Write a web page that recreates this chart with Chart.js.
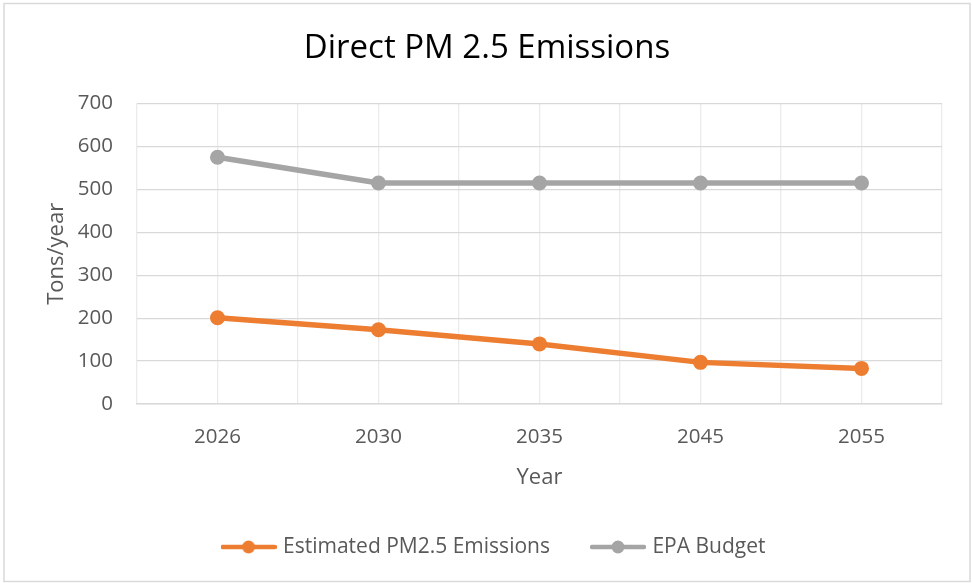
<!DOCTYPE html>
<html>
<head>
<meta charset="utf-8">
<script src="https://cdn.jsdelivr.net/npm/chart.js@4/dist/chart.umd.min.js"></script>
<style>
  html, body { margin: 0; padding: 0; background: #fff; }
  #wrap { width: 972px; height: 583px; }
</style>
</head>
<body>
<div id="wrap"><canvas id="c" width="972" height="583"></canvas></div>
<script>
const chartTitle = 'Direct PM 2.5 Emissions';
const years = ['2026', '2030', '2035', '2045', '2055'];
const estimatedEmissions = [201, 173, 140, 97, 83];
const epaBudget = [575, 515, 515, 515, 515];
const seriesNames = ['Estimated PM2.5 Emissions', 'EPA Budget'];
const yAxisTitle = 'Tons/year';
const xAxisTitle = 'Year';
const yMin = 0, yMax = 700, yStep = 100;

const ORANGE = '#ED7D31';
const GRAY = '#A5A5A5';
const TEXT = '#595959';
const FONT = '"Open Sans", "DejaVu Sans", sans-serif';

function legendIcon(color) {
  const c = document.createElement('canvas');
  c.width = 56; c.height = 16;
  const g = c.getContext('2d');
  g.strokeStyle = color; g.lineWidth = 4.5; g.lineCap = 'round';
  g.beginPath(); g.moveTo(2, 8); g.lineTo(54, 8); g.stroke();
  g.fillStyle = color;
  g.beginPath(); g.arc(28, 8, 6.5, 0, Math.PI * 2); g.fill();
  return c;
}

const frame = {
  id: 'frame',
  beforeDraw(chart) {
    const ctx = chart.ctx;
    ctx.save();
    ctx.fillStyle = '#fff';
    ctx.fillRect(0, 0, chart.width, chart.height);
    ctx.strokeStyle = '#d9d9d9';
    ctx.lineWidth = 1.5;
    ctx.strokeRect(4, 3.5, 966, 578);
    ctx.restore();
  },
  afterLayout(chart) {
    if (chart.legend) { chart.legend.left += 24; chart.legend.right += 24; }
    if (chart.titleBlock) { chart.titleBlock.left += 16; chart.titleBlock.right += 16; }
  }
};

function draw() {
  new Chart(document.getElementById('c'), {
    type: 'line',
    data: {
      labels: years,
      datasets: [
        {
          label: seriesNames[0], data: estimatedEmissions,
          borderColor: ORANGE, backgroundColor: ORANGE,
          borderWidth: 5.5, pointRadius: 7.5, pointHoverRadius: 7.5,
          pointBackgroundColor: ORANGE, pointBorderWidth: 0, tension: 0
        },
        {
          label: seriesNames[1], data: epaBudget,
          borderColor: GRAY, backgroundColor: GRAY,
          borderWidth: 5.5, pointRadius: 7.5, pointHoverRadius: 7.5,
          pointBackgroundColor: GRAY, pointBorderWidth: 0, tension: 0
        }
      ]
    },
    options: {
      responsive: false,
      animation: false,
      devicePixelRatio: 1,
      layout: { padding: { left: 0, right: 30, top: 0, bottom: 15.5 } },
      plugins: {
        tooltip: { enabled: false },
        title: {
          display: true, text: chartTitle, color: '#000',
          font: { family: FONT, size: 33, weight: 'normal' },
          padding: { top: 29, bottom: 35 }
        },
        legend: {
          display: true, position: 'bottom',
          labels: {
            color: TEXT, font: { family: FONT, size: 21 },
            usePointStyle: true, pointStyleWidth: 48, padding: 44,
            generateLabels(chart) {
              const items = Chart.defaults.plugins.legend.labels.generateLabels(chart);
              items.forEach((it, i) => { it.pointStyle = legendIcon(i === 0 ? ORANGE : GRAY); });
              return items;
            }
          }
        }
      },
      scales: {
        x: {
          type: 'category', offset: true, position: 'bottom',
          grid: { display: true, offset: false, color: '#ebebeb', lineWidth: 1.3, drawTicks: false },
          border: { display: true, color: '#d9d9d9', width: 1.5 },
          ticks: { color: TEXT, font: { family: FONT, size: 20.5 }, padding: 21, maxRotation: 0 },
          title: { display: true, text: xAxisTitle, color: TEXT, font: { family: FONT, size: 22 }, padding: { top: 12, bottom: 2 } },
          afterFit(s) { s.height = 88.5; }
        },
        x2: {
          type: 'category', offset: true, position: 'bottom',
          grid: { display: true, offset: true, color: '#ebebeb', lineWidth: 1.3, drawTicks: false },
          border: { display: false },
          ticks: { display: false },
          afterFit(s) { s.height = 0; }
        },
        y: {
          min: yMin, max: yMax,
          grid: { color: '#d9d9d9', lineWidth: 1.3, drawTicks: false },
          border: { display: false },
          ticks: { stepSize: yStep, color: TEXT, font: { family: FONT, size: 20.5 }, padding: 24 },
          title: { display: true, text: yAxisTitle, color: TEXT, font: { family: FONT, size: 22 }, padding: { top: 44, bottom: 0 } },
          afterFit(s) { s.width = 137; }
        }
      }
    },
    plugins: [frame]
  });
}

if (document.fonts && document.fonts.load) {
  Promise.all([
    document.fonts.load('20px "Open Sans"'),
    document.fonts.load('33px "Open Sans"')
  ]).then(draw, draw);
} else { draw(); }
</script>
</body>
</html>
